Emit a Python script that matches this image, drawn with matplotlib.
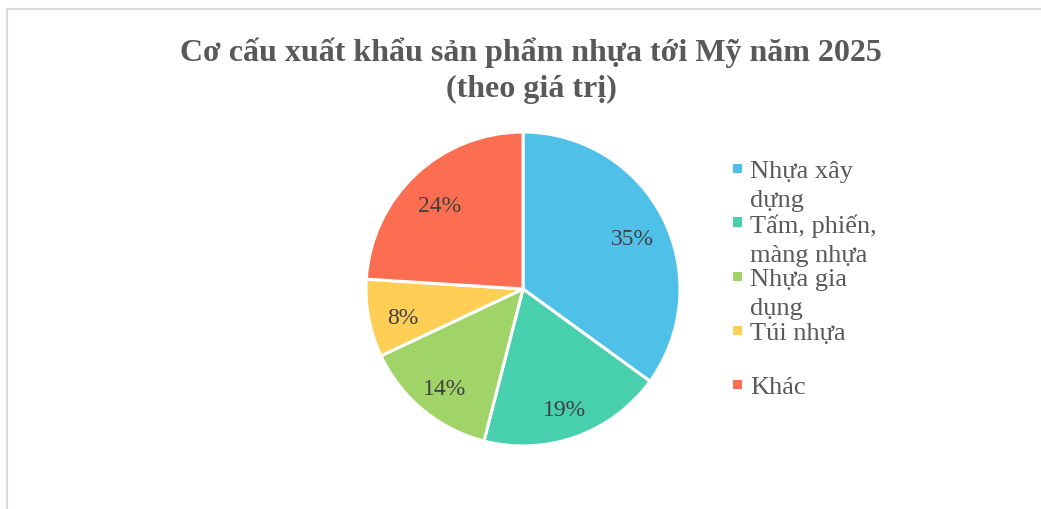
import matplotlib.pyplot as plt
from matplotlib.patches import Rectangle

# Chart data
categories = ["Nhựa xây\ndựng", "Tấm, phiến,\nmàng nhựa", "Nhựa gia\ndụng", "Túi nhựa", "Khác"]
shares = [35, 19, 14, 8, 24]
colors = ["#4FC1E9", "#48CFAD", "#A0D468", "#FFCE54", "#FC6E51"]

title = "Cơ cấu xuất khẩu sản phẩm nhựa tới Mỹ năm 2025\n(theo giá trị)"

plt.rcParams['font.family'] = ['Liberation Serif', 'DejaVu Serif']

W, H = 1041, 510
fig = plt.figure(figsize=(W / 100, H / 100), dpi=100)

# light frame around the chart area (right/bottom run off the image)
fig.patches.append(Rectangle((7 / W, -0.1), 1.2, 1 - 10 / H + 0.1, transform=fig.transFigure,
                             fill=False, edgecolor="#d9d9d9", linewidth=1.5, clip_on=False))

# pie placement: centre (523, 290) px, radius 157 px
cx, cy, r = 523, 290, 157
m = 1.1
ax = fig.add_axes([(cx - r * m) / W, (H - cy - r * m) / H, 2 * r * m / W, 2 * r * m / H])
wedges, texts, autotexts = ax.pie(shares, colors=colors, startangle=90, counterclock=False,
                                  autopct=lambda p: f"{p:.0f}%", pctdistance=0.78,
                                  wedgeprops=dict(edgecolor="white", linewidth=2.2),
                                  textprops=dict(fontsize=17, color="#404040"))
# nudge labels down a little (Excel centres on the glyphs, not the text box)
for t in autotexts:
    x, y = t.get_position()
    t.set_position((x, y - 0.035))
ax.set_xlim(-m, m)
ax.set_ylim(-m, m)
ax.set_aspect("equal")

fig.text(531 / W, 1 - 71 / H, title, ha="center", va="center", fontsize=23,
         fontweight="bold", color="#595959", linespacing=1.3)

# legend, drawn by hand so wrapped labels sit like the original
y0, step = 169, 54
for i, (lab, col) in enumerate(zip(categories, colors)):
    y = y0 + i * step
    fig.patches.append(Rectangle((733 / W, 1 - (y + 4.5) / H), 9 / W, 9 / H,
                                 transform=fig.transFigure, facecolor=col, edgecolor="none"))
    fig.text(750 / W, 1 - (y - 8) / H, lab, ha="left", va="top", fontsize=19,
             color="#595959", linespacing=1.4)

fig.savefig("out.png", dpi=100, facecolor="white")
